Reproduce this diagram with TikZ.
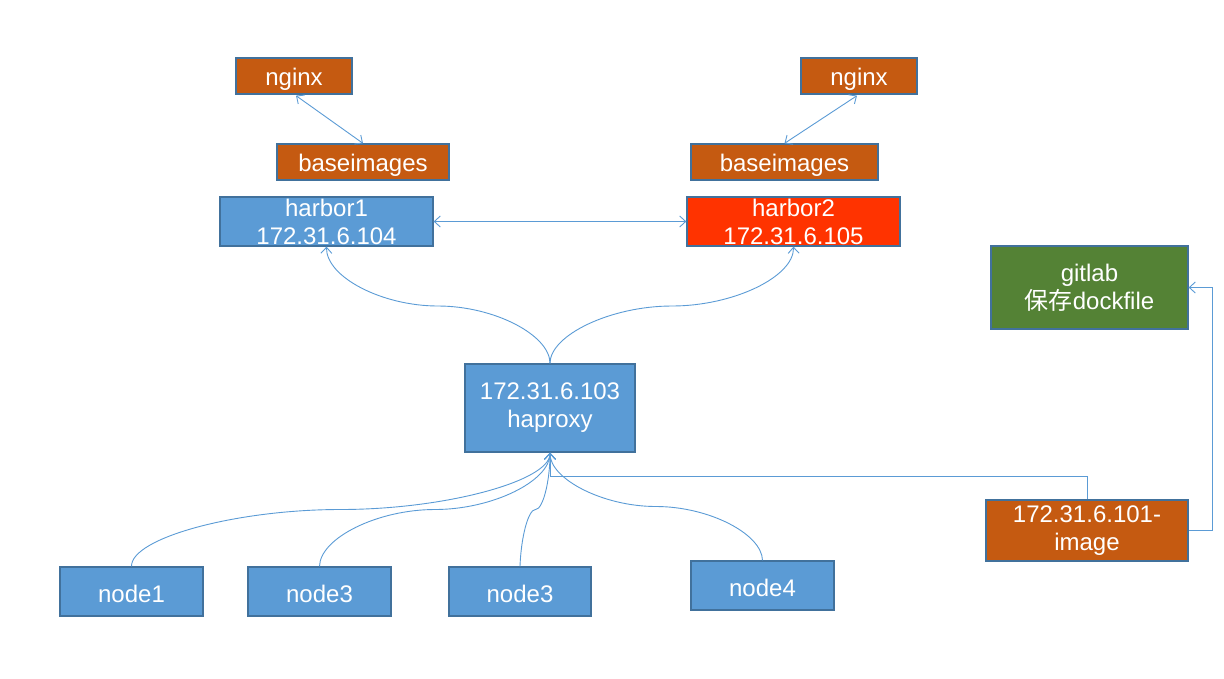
\documentclass[tikz,border=0pt]{standalone}
\usepackage{fontspec}
\setmainfont{Liberation Sans}
\newfontfamily\cjk{Noto Sans CJK SC}
\usetikzlibrary{arrows.meta}
\definecolor{bluefill}{HTML}{5B9BD5}
\definecolor{boxline}{HTML}{41719C}
\definecolor{orangefill}{HTML}{C55A11}
\definecolor{redfill}{HTML}{FF3300}
\definecolor{greenfill}{HTML}{548235}
\definecolor{conn}{HTML}{5B9BD5}
\begin{document}
\begin{tikzpicture}[x=1pt,y=-1pt,
  box/.style={draw=boxline, line width=1.3pt, rectangle, inner sep=0pt, text=white,
    align=center, font=\fontsize{24}{28}\selectfont,
    execute at begin node={\rule{0pt}{23pt}}},
  conn/.style={draw=conn, line width=0.9pt},
  tip/.style={-{Straight Barb[length=6pt,width=11pt]}},
  dtip/.style={{Straight Barb[length=6pt,width=11pt]}-{Straight Barb[length=6pt,width=11pt]}}]
\useasboundingbox (0,0) rectangle (1224,678);
% nodes
\node[box, fill=orangefill, minimum width=116pt, minimum height=36pt] (ng1) at (294,76) {nginx};
\node[box, fill=orangefill, minimum width=172pt, minimum height=36pt] (bi1) at (363,162) {baseimages};
\node[box, fill=bluefill, minimum width=213pt, minimum height=49pt] (h1) at (326.5,221.5) {harbor1\\172.31.6.104};
\node[box, fill=orangefill, minimum width=116pt, minimum height=36pt] (ng2) at (859,76) {nginx};
\node[box, fill=orangefill, minimum width=187pt, minimum height=36pt] (bi2) at (784.5,162) {baseimages};
\node[box, fill=redfill, minimum width=213pt, minimum height=49pt] (h2) at (793.5,221.5) {harbor2\\172.31.6.105};
\node[box, fill=greenfill, minimum width=197pt, minimum height=83pt] (git) at (1089.5,287.5) {gitlab\\{\cjk 保存}dockfile};
\node[box, fill=bluefill, minimum width=170pt, minimum height=88pt] (ha) at (550,408) {172.31.6.103\\haproxy};
\node[box, fill=bluefill, minimum width=143pt, minimum height=49pt] (n1) at (131.5,591.5) {node1};
\node[box, fill=bluefill, minimum width=143pt, minimum height=49pt] (n3a) at (319.5,591.5) {node3};
\node[box, fill=bluefill, minimum width=142pt, minimum height=49pt] (n3b) at (520,591.5) {node3};
\node[box, fill=bluefill, minimum width=143pt, minimum height=49pt] (n4) at (762.5,585.5) {node4};
\node[box, fill=orangefill, minimum width=202pt, minimum height=61pt] (img) at (1087,530.5) {172.31.6.101-\\image};
% connectors
\draw[conn, dtip] (ng1.south) ++(2,1) coordinate (a1) (a1) -- (bi1.north);
\draw[conn, dtip] (ng2.south) ++(-2,1) coordinate (a2) (a2) -- (bi2.north);
\draw[conn, dtip] (h1.east) -- (h2.east -| h2.west);
% haproxy to harbors
\draw[conn, tip] (ha.north) .. controls (550,335) and (494,306) .. (438,306)
  .. controls (382,306) and (326,277) .. (h1.south);
\draw[conn, tip] (ha.north) .. controls (550,335) and (611,306) .. (672,306)
  .. controls (733,306) and (794,277) .. (h2.south);
% nodes to haproxy
\draw[conn, tip] (n1.north) .. controls (131,538) and (236,509.5) .. (340.5,509.5)
  .. controls (445,509.5) and (550,481) .. (ha.south);
\draw[conn, tip] (n3a.north) .. controls (320,538) and (377.5,509.5) .. (435,509.5)
  .. controls (492.5,509.5) and (550,481) .. (ha.south);
\draw[conn, tip] (n3b.north) .. controls (521,538) and (528,509.5) .. (535.5,509.5)
  .. controls (543,509.5) and (550,481) .. (ha.south);
\draw[conn, tip] (n4.north) .. controls (762,534) and (709,506.5) .. (656,506.5)
  .. controls (603,506.5) and (550,479) .. (ha.south);
\draw[conn, tip] (img.north) -- (1087,476) -- (550,476) -- (ha.south);
\draw[conn, tip] (img.east) -- (1212,530.5) -- (1212,287.5) -- (git.east);
\end{tikzpicture}
\end{document}
